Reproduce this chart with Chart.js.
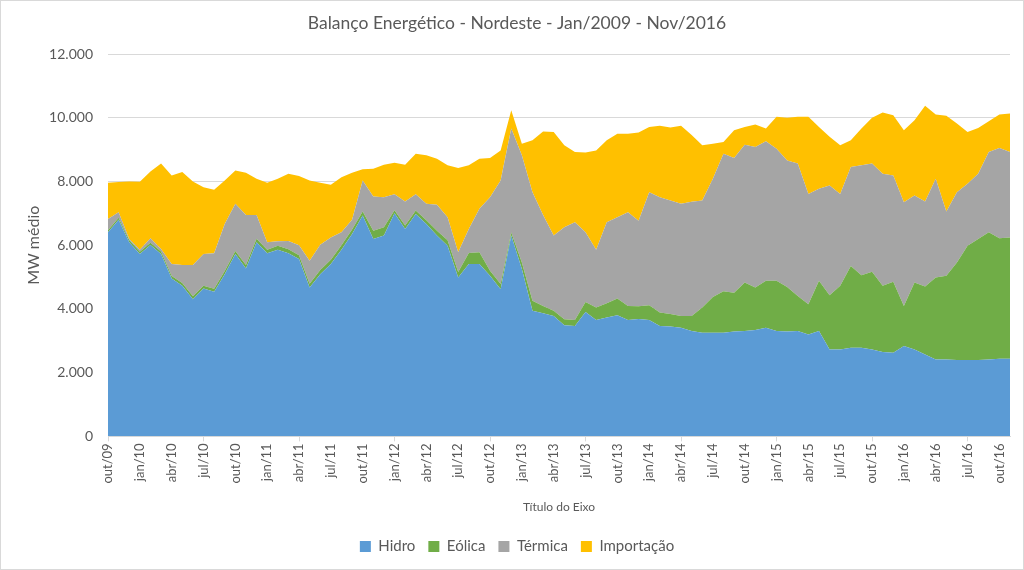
<!DOCTYPE html>
<html>
<head>
<meta charset="utf-8">
<script src="https://cdn.jsdelivr.net/npm/chart.js@4/dist/chart.umd.min.js"></script>
<style>
  html, body { margin: 0; padding: 0; background: #fff; }
  #wrap { width: 1024px; height: 570px; position: relative; }
</style>
</head>
<body>
<div id="wrap"><canvas id="c" width="1024" height="570"></canvas></div>
<script>
const months = ["out/09","nov/09","dez/09",
  "jan/10","fev/10","mar/10","abr/10","mai/10","jun/10","jul/10","ago/10","set/10","out/10","nov/10","dez/10",
  "jan/11","fev/11","mar/11","abr/11","mai/11","jun/11","jul/11","ago/11","set/11","out/11","nov/11","dez/11",
  "jan/12","fev/12","mar/12","abr/12","mai/12","jun/12","jul/12","ago/12","set/12","out/12","nov/12","dez/12",
  "jan/13","fev/13","mar/13","abr/13","mai/13","jun/13","jul/13","ago/13","set/13","out/13","nov/13","dez/13",
  "jan/14","fev/14","mar/14","abr/14","mai/14","jun/14","jul/14","ago/14","set/14","out/14","nov/14","dez/14",
  "jan/15","fev/15","mar/15","abr/15","mai/15","jun/15","jul/15","ago/15","set/15","out/15","nov/15","dez/15",
  "jan/16","fev/16","mar/16","abr/16","mai/16","jun/16","jul/16","ago/16","set/16","out/16","nov/16"];

const hidro = [6405,6800,6090,5720,6005,5720,4955,4725,4305,4640,4535,5090,5720,5270,
  6090,5750,5860,5750,5565,4670,5090,5410,5860,6350,6930,6195,6300,7000,
  6510,6980,6665,6300,5985,4985,5410,5410,5040,4620,6300,5250,3940,3860,
  3780,3485,3465,3905,3655,3730,3800,3655,3680,3655,3465,3450,3410,3305,
  3255,3255,3255,3290,3305,3340,3410,3305,3290,3305,3200,3305,2730,2730,
  2780,2780,2730,2645,2625,2835,2730,2570,2415,2415,2395,2395,2395,2415,2435,2435];

const eolica = [60,60,70,70,70,80,80,90,90,90,100,100,100,110,
  110,110,120,120,120,120,130,130,140,140,130,260,260,100,
  110,110,120,150,170,170,345,370,160,160,100,210,315,230,
  160,190,190,315,390,450,525,440,400,460,420,390,370,470,
  790,1120,1300,1220,1520,1335,1470,1575,1400,1100,945,1575,1700,2000,
  2570,2280,2435,2080,2225,1260,2100,2130,2570,2625,3065,3590,3800,3990,3780,3810];

const termica = [360,175,35,70,140,80,375,560,980,990,1115,1475,1480,1570,
  750,230,140,260,315,720,795,705,405,310,970,1075,945,500,
  750,510,515,820,725,620,755,1360,2305,3250,3260,3360,3410,2860,
  2360,2885,3065,2185,1815,2540,2555,2940,2690,3550,3620,3560,3520,3585,
  3355,3710,4315,4225,4330,4405,4380,4150,3970,4155,3465,2890,3445,2880,
  3100,3445,3395,3515,3340,3255,2730,2670,3100,2015,2205,1945,2045,2520,2835,2680];

const importacao = [1135,945,1805,2130,2100,2680,2780,2920,2625,2100,1990,1365,1040,1325,
  1135,1870,1965,2110,2170,2520,1945,1650,1730,1470,350,870,1020,990,
  1155,1270,1520,1445,1625,2645,1995,1575,1230,945,575,365,1625,2615,
  3255,2575,2205,2500,3115,2570,2620,2465,2765,2045,2240,2290,2445,2100,
  1735,1100,370,870,555,705,400,1000,1340,1470,2420,1940,1525,1525,
  840,1155,1440,1925,1890,2255,2360,3005,2015,3005,2155,1625,1440,965,1050,1205];

const seriesNames = ["Hidro","Eólica","Térmica","Importação"];
const seriesColors = ["#5B9BD5","#70AD47","#A5A5A5","#FFC000"];
const yTicks = [0,2000,4000,6000,8000,10000,12000];

const FONT = "Lato, 'Open Sans', sans-serif";
const GREY = "#595959";

function fmt(v) { return String(v).replace(/\B(?=(\d{3})+(?!\d))/g, "."); }

const frame = {
  id: "frame",
  beforeDraw(chart) {
    const ctx = chart.ctx;
    ctx.save();
    ctx.fillStyle = "#fff";
    ctx.fillRect(0, 0, chart.width, chart.height);
    ctx.strokeStyle = "#d9d9d9";
    ctx.lineWidth = 1;
    ctx.strokeRect(0.5, 0.5, chart.width - 1, chart.height - 1);
    ctx.restore();
  }
};

const values = [hidro, eolica, termica, importacao];
new Chart(document.getElementById("c"), {
  type: "line",
  data: {
    labels: months,
    datasets: values.map((d, k) => ({
      label: seriesNames[k],
      data: d,
      backgroundColor: seriesColors[k],
      borderColor: seriesColors[k],
      borderWidth: 0,
      pointRadius: 0,
      tension: 0,
      fill: k === 0 ? "origin" : "-1"
    }))
  },
  options: {
    responsive: false,
    animation: false,
    layout: { padding: { left: 24, right: 14, top: 0, bottom: 6 } },
    plugins: {
      tooltip: { enabled: false },
      title: {
        display: true,
        text: "Balanço Energético - Nordeste - Jan/2009 - Nov/2016",
        color: GREY,
        font: { family: FONT, size: 17.5, weight: "normal" },
        padding: { top: 13, bottom: 20 }
      },
      legend: {
        position: "bottom",
        labels: {
          color: GREY,
          font: { family: FONT, size: 15 },
          boxWidth: 11,
          boxHeight: 11,
          padding: 13
        }
      }
    },
    scales: {
      x: {
        offset: false,
        afterFit: (s) => { s.height = s.height + 10; },
        grid: {
          drawOnChartArea: false,
          drawTicks: true,
          tickLength: 5,
          color: (c) => (c.index % 3 === 0 ? "#d9d9d9" : "rgba(0,0,0,0)")
        },
        border: { color: "#d9d9d9" },
        ticks: {
          autoSkip: false,
          maxRotation: 90,
          minRotation: 90,
          padding: 2,
          color: GREY,
          font: { family: FONT, size: 13 },
          callback: (v, i) => (i % 3 === 0 ? months[i] : null)
        },
        title: {
          display: true,
          text: "Título do Eixo",
          color: GREY,
          font: { family: FONT, size: 12 },
          padding: { top: 4, bottom: 12 }
        }
      },
      y: {
        stacked: true,
        min: 0,
        max: 12000,
        afterBuildTicks: (s) => { s.ticks = yTicks.map(v => ({ value: v })); },
        afterFit: (s) => { s.width = 108 - 24; },
        grid: { color: "#d9d9d9", drawTicks: false },
        border: { display: false },
        ticks: {
          color: GREY,
          padding: 15,
          font: { family: FONT, size: 14 },
          callback: (v) => fmt(v)
        },
        title: {
          display: true,
          text: "MW médio",
          color: GREY,
          font: { family: FONT, size: 16 },
          padding: { top: 0, bottom: 0 }
        }
      }
    }
  },
  plugins: [frame]
});
</script>
</body>
</html>
